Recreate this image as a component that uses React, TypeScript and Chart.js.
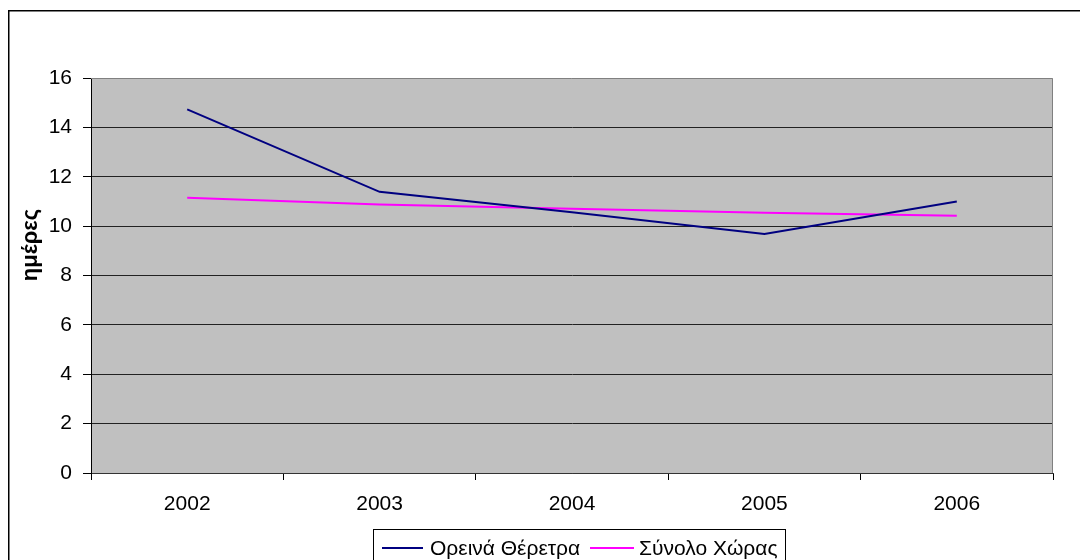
import React, { useEffect, useRef } from "react";
import { Chart, registerables } from "chart.js";

Chart.register(...registerables);

const years = ["2002", "2003", "2004", "2005", "2006"];
const mountainResorts = [14.73, 11.39, 10.56, 9.68, 11.0];
const countryTotal = [11.15, 10.88, 10.7, 10.54, 10.42];
const seriesNames = ["Ορεινά Θέρετρα", "Σύνολο Χώρας"];
const seriesColors = ["#000080", "#FF00FF"];
const yTitle = "ημέρες";

const FONT = "'Liberation Sans', Arial, sans-serif";

const framePlugin = {
  id: "frameAndLegend",
  beforeDraw(chart: any) {
    const { ctx, chartArea: a } = chart;
    ctx.save();
    ctx.fillStyle = "#ffffff";
    ctx.fillRect(0, 0, chart.width, chart.height);
    // outer frame
    ctx.strokeStyle = "#000";
    ctx.lineWidth = 1.5;
    ctx.strokeRect(8.75, 10.75, 1200, 700);
    // plot background
    ctx.fillStyle = "#C0C0C0";
    ctx.fillRect(a.left, a.top, a.right - a.left, a.bottom - a.top);
    ctx.restore();
  },
  beforeDatasetsDraw(chart: any) {
    const { ctx, chartArea: a } = chart;
    ctx.save();
    ctx.strokeStyle = "#808080";
    ctx.lineWidth = 1;
    ctx.beginPath();
    ctx.moveTo(a.left, a.top + 0.5);
    ctx.lineTo(a.right - 0.5, a.top + 0.5);
    ctx.lineTo(a.right - 0.5, a.bottom);
    ctx.stroke();
    ctx.restore();
  },
  afterDraw(chart: any) {
    const { ctx } = chart;
    ctx.save();
    // axis title
    ctx.translate(31, 245);
    ctx.rotate(-Math.PI / 2);
    ctx.font = `bold 22px ${FONT}`;
    ctx.fillStyle = "#000";
    ctx.textAlign = "center";
    ctx.textBaseline = "middle";
    ctx.fillText(yTitle, 0, 0);
    ctx.restore();

    // legend
    ctx.save();
    ctx.fillStyle = "#fff";
    ctx.fillRect(373, 529, 413, 40);
    ctx.strokeStyle = "#000";
    ctx.lineWidth = 1;
    ctx.strokeRect(373.5, 529.5, 412, 40);
    ctx.font = `21px ${FONT}`;
    ctx.textBaseline = "alphabetic";
    ctx.textAlign = "left";
    const entries = [
      { x0: 382, x1: 423, tx: 430 },
      { x0: 590, x1: 634, tx: 639 },
    ];
    chart.data.datasets.forEach((ds: any, i: number) => {
      const e = entries[i];
      ctx.strokeStyle = ds.borderColor;
      ctx.lineWidth = 2;
      ctx.beginPath();
      ctx.moveTo(e.x0, 548);
      ctx.lineTo(e.x1, 548);
      ctx.stroke();
      ctx.fillStyle = "#000";
      ctx.fillText(ds.label, e.tx, 555);
    });
    ctx.restore();
  },
};

export default function App() {
  const ref = useRef<HTMLCanvasElement | null>(null);

  useEffect(() => {
    document.body.style.margin = "0";
    const canvas = ref.current!;
    const chart = new Chart(canvas, {
      type: "line",
      data: {
        labels: years,
        datasets: [
          {
            label: seriesNames[0],
            data: mountainResorts,
            borderColor: seriesColors[0],
            backgroundColor: seriesColors[0],
            borderWidth: 2,
            pointRadius: 0,
            tension: 0,
          },
          {
            label: seriesNames[1],
            data: countryTotal,
            borderColor: seriesColors[1],
            backgroundColor: seriesColors[1],
            borderWidth: 2,
            pointRadius: 0,
            tension: 0,
          },
        ],
      },
      options: {
        responsive: false,
        animation: false,
        devicePixelRatio: 1,
        layout: { padding: { top: 78, right: 27, bottom: 0, left: 0 } },
        plugins: {
          legend: { display: false },
          tooltip: { enabled: false },
          title: { display: false },
        },
        scales: {
          x: {
            offset: true,
            grid: {
              offset: true,
              drawOnChartArea: false,
              drawTicks: true,
              tickLength: 7,
              tickColor: "#000",
            },
            border: { color: "#333", width: 1 },
            ticks: {
              color: "#000",
              font: { family: FONT, size: 21 },
              padding: 12,
              maxRotation: 0,
            },
            afterFit(scale: any) {
              scale.height = 87;
            },
          },
          y: {
            min: 0,
            max: 16,
            grid: {
              color: (c: any) => (c.tick && c.tick.value === 16 ? "rgba(0,0,0,0)" : "#222"),
              tickColor: "#000",
              tickLength: 8,
            },
            border: { color: "#000", width: 1 },
            ticks: {
              stepSize: 2,
              color: "#000",
              font: { family: FONT, size: 21 },
              padding: 11,
            },
            afterFit(scale: any) {
              scale.width = 91;
            },
          },
        },
      },
      plugins: [framePlugin],
    });
    return () => chart.destroy();
  }, []);

  return (
    <div style={{ position: "fixed", left: 0, top: 0, width: 1080, height: 560 }}>
      <canvas ref={ref} width={1080} height={560} style={{ display: "block" }} />
    </div>
  );
}
